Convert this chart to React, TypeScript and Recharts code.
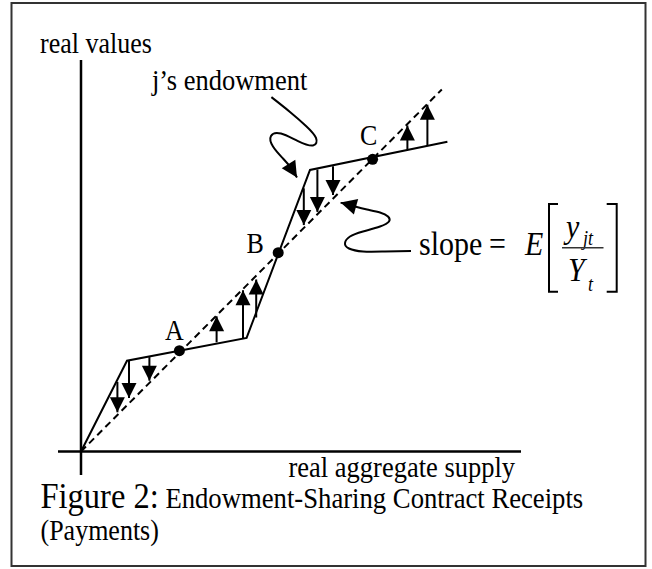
import { ComposedChart, Line, Scatter, XAxis, YAxis, ReferenceLine } from "recharts";

// endowment of agent j against aggregate supply (kinked)
const endowment = [
  { x: 0, y: 0 },
  { x: 11.5, y: 22.7 },
  { x: 41.4, y: 28.4 },
  { x: 57.25, y: 70.4 },
  { x: 91.6, y: 77.45 },
];

// contract receipts, slope = E[y_jt / Y_t]
const sharingLine = [
  { x: 0, y: 0 },
  { x: 90.2, y: 90.5 },
];

const crossPoints = [
  { name: "A", x: 24.6, y: 25.2 },
  { name: "B", x: 49.3, y: 49.7 },
  { name: "C", x: 72.9, y: 73.05 },
];

// transfers: from the endowment to the sharing line
const transferX = [9.1, 12.0, 17.1, 33.9, 40.5, 43.8, 55.7, 59.1, 63.0, 81.6, 86.6];
const transferFrom = [17.4, 22.6, 23.6, 27.3, 28.4, 33.5, 65.8, 70.5, 71.3, 75.5, 76.5];
const transferTo = [9.8, 13.4, 17.7, 33.8, 40.3, 43.0, 56.6, 59.9, 64.1, 81.5, 86.7];

const kinkPointer = [
  { x: 47.6, y: 88.6 },
  { x: 52.25, y: 84.9 },
  { x: 56.25, y: 81.4 },
  { x: 58.75, y: 78.4 },
  { x: 58.0, y: 76.5 },
  { x: 54.25, y: 77.6 },
  { x: 50.0, y: 79.5 },
  { x: 47.5, y: 78.9 },
  { x: 48.0, y: 76.25 },
  { x: 50.5, y: 73.25 },
  { x: 52.5, y: 70.9 },
];

const slopePointer = [
  { x: 82.5, y: 50.1 },
  { x: 76.0, y: 50.0 },
  { x: 70.5, y: 50.0 },
  { x: 67.0, y: 50.75 },
  { x: 66.0, y: 52.1 },
  { x: 67.25, y: 53.75 },
  { x: 70.5, y: 55.0 },
  { x: 74.75, y: 56.25 },
  { x: 77.0, y: 57.5 },
  { x: 76.75, y: 58.75 },
  { x: 74.75, y: 59.75 },
  { x: 71.5, y: 60.5 },
  { x: 68.5, y: 61.25 },
];

const pointerTips = [
  { x: 54.0, y: 68.5 },
  { x: 64.9, y: 62.25 },
];

const xAxisSpan = [-5.75, 110];
const yAxisSpan = [-5.9, 97.9];

const transfers = transferX.map((x, i) => ({ x, from: transferFrom[i], to: transferTo[i] }));

const heads = [
  ...transfers.map((t) => ({ x: t.x, y: t.to, fx: t.x, fy: t.from, big: false })),
  { ...pointerTips[0], fx: kinkPointer[kinkPointer.length - 1].x, fy: kinkPointer[kinkPointer.length - 1].y, big: true },
  { ...pointerTips[1], fx: slopePointer[slopePointer.length - 1].x, fy: slopePointer[slopePointer.length - 1].y, big: true },
];

const kinkCurve = [...kinkPointer, pointerTips[0]];
const slopeCurve = [...slopePointer, pointerTips[1]];

const FONT = "'Liberation Serif', 'Times New Roman', serif";

function ArrowHead(props: any) {
  const { cx, cy, payload } = props;
  if (cx == null || cy == null) return null;
  // both axes use the same px-per-unit, so the data direction is the screen direction
  const ang = Math.atan2(-(payload.y - payload.fy), payload.x - payload.fx);
  const len = payload.big ? 16 : 15;
  const half = payload.big ? 8 : 7.5;
  const ux = Math.cos(ang);
  const uy = Math.sin(ang);
  const bx = cx - ux * len;
  const by = cy - uy * len;
  const px = -uy * half;
  const py = ux * half;
  return (
    <polygon
      points={`${cx},${cy} ${bx + px},${by + py} ${bx - px},${by - py}`}
      fill="#000"
    />
  );
}

function Dot(props: any) {
  const { cx, cy } = props;
  if (cx == null || cy == null) return null;
  return <circle cx={cx} cy={cy} r={5.5} fill="#000" />;
}

// the source figure is slightly stretched vertically
function T({ x, y, size, italic, children }: any) {
  return (
    <g transform={`translate(${x},${y}) scale(1,1.12)`}>
      <text x={0} y={0} fontSize={size} fontStyle={italic ? "italic" : "normal"}>
        {children}
      </text>
    </g>
  );
}

export default function App() {
  return (
    <div style={{ position: "fixed", left: 0, top: 0, width: 652, height: 569, background: "#fff" }}>
      <ComposedChart
        width={652}
        height={569}
        margin={{ top: 11.5, right: 11, bottom: 37.5, left: 41 }}
      >
        <XAxis type="number" dataKey="x" domain={[-10, 140]} allowDataOverflow hide />
        <YAxis type="number" dataKey="y" domain={[-20, 110]} allowDataOverflow hide />

        <ReferenceLine
          segment={[{ x: xAxisSpan[0], y: 0 }, { x: xAxisSpan[1], y: 0 }]}
          stroke="#000"
          strokeWidth={2.5}
        />
        <ReferenceLine
          segment={[{ x: 0, y: yAxisSpan[0] }, { x: 0, y: yAxisSpan[1] }]}
          stroke="#000"
          strokeWidth={2.5}
        />

        <Line
          data={sharingLine}
          dataKey="y"
          type="linear"
          stroke="#000"
          strokeWidth={2}
          strokeDasharray="7 4.5"
          dot={false}
          activeDot={false}
          isAnimationActive={false}
        />
        <Line
          data={endowment}
          dataKey="y"
          type="linear"
          stroke="#000"
          strokeWidth={2}
          dot={false}
          activeDot={false}
          isAnimationActive={false}
        />
        <Line
          data={kinkCurve}
          dataKey="y"
          type="natural"
          stroke="#000"
          strokeWidth={2}
          dot={false}
          activeDot={false}
          isAnimationActive={false}
        />
        <Line
          data={slopeCurve}
          dataKey="y"
          type="natural"
          stroke="#000"
          strokeWidth={2}
          dot={false}
          activeDot={false}
          isAnimationActive={false}
        />

        {transfers.map((t, i) => (
          <ReferenceLine
            key={`tr-${i}`}
            segment={[{ x: t.x, y: t.from }, { x: t.x, y: t.to }]}
            stroke="#000"
            strokeWidth={2}
          />
        ))}

        <Scatter data={heads} shape={ArrowHead} isAnimationActive={false} />
        <Scatter data={crossPoints} shape={Dot} isAnimationActive={false} />
      </ComposedChart>

      <svg
        width={652}
        height={569}
        style={{ position: "absolute", left: 0, top: 0, pointerEvents: "none" }}
        fontFamily={FONT}
        fill="#000"
      >
        <rect x={11.5} y={3} width={634} height={563} fill="none" stroke="#333" strokeWidth={2} />

        <T x={40} y={53} size={26}>real values</T>
        <T x={152} y={90} size={26.5}>j’s endowment</T>
        <T x={165} y={339.5} size={26}>A</T>
        <T x={246.5} y={253} size={26}>B</T>
        <T x={360} y={145} size={26}>C</T>
        <T x={288.5} y={477} size={26.5}>real aggregate supply</T>

        <g transform="translate(40.5,508) scale(1,1.08)">
          <text x={0} y={0}>
            <tspan fontSize={32.5}>Figure 2:</tspan>
            <tspan fontSize={26.7}> Endowment-Sharing Contract Receipts</tspan>
          </text>
        </g>
        <T x={40.5} y={540} size={26}>(Payments)</T>

        <T x={419} y={255} size={30}>slope</T>
        <T x={489} y={255} size={30}>=</T>
        <T x={525} y={255} size={30} italic>E</T>
        <path d="M558 204 H549 V291.7 H558" fill="none" stroke="#000" strokeWidth={2} />
        <path d="M606.7 204 H616.7 V291.7 H606.7" fill="none" stroke="#000" strokeWidth={2} />
        <T x={566} y={238} size={30} italic>y</T>
        <T x={583} y={245} size={18} italic>jt</T>
        <line x1={562} y1={247.7} x2={603.5} y2={247.7} stroke="#333" strokeWidth={1.5} />
        <T x={568} y={281} size={30} italic>Y</T>
        <T x={588} y={291} size={18} italic>t</T>
      </svg>
    </div>
  );
}
